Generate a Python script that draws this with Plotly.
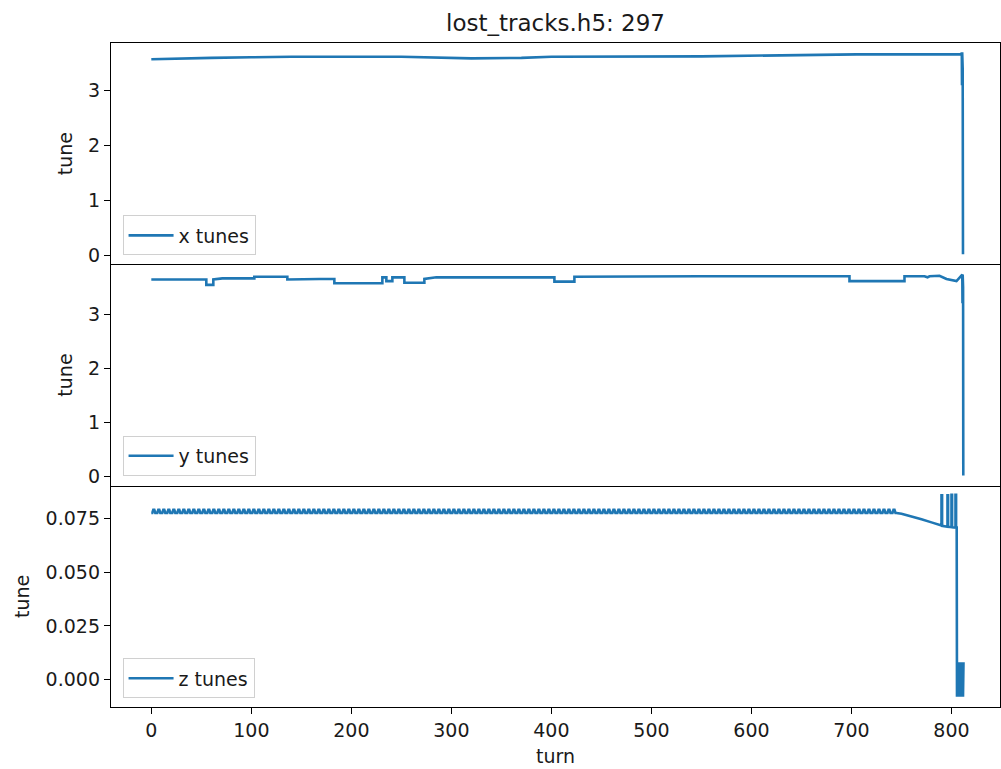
import plotly.graph_objects as go
from plotly.subplots import make_subplots

# ---------------- data ----------------
# x tunes: (turn, tune) knots of the piecewise line
x_turn = [0, 30, 60, 100, 140, 250, 300, 320, 370, 400, 550, 658, 705, 810,
          810.3, 810.5, 810.7, 811.0, 811.2, 811.5]
x_tune = [3.575, 3.59, 3.60, 3.61, 3.62, 3.62, 3.60, 3.59, 3.60, 3.62, 3.627,
          3.645, 3.664, 3.664, 3.70, 3.10, 3.70, 3.10, 3.40, 0.02]

# y tunes
y_turn = [0, 55, 55, 62, 62, 71, 103, 103, 136, 136, 168, 183, 183, 231, 231,
          235, 235, 241, 241, 253, 253, 273, 273, 285, 403, 403, 423, 423,
          548, 698, 698, 753, 753, 773, 776, 778, 788, 795, 805, 810.8,
          811.0, 811.2, 811.4, 811.6, 811.8]
y_tune = [3.64, 3.64, 3.54, 3.54, 3.64, 3.66, 3.66, 3.69, 3.69, 3.64, 3.65,
          3.65, 3.57, 3.57, 3.68, 3.68, 3.61, 3.61, 3.68, 3.68, 3.58, 3.58,
          3.65, 3.68, 3.68, 3.60, 3.60, 3.69, 3.70, 3.70, 3.61, 3.61, 3.70,
          3.70, 3.68, 3.70, 3.71, 3.65, 3.61, 3.73, 3.20, 3.73, 3.20, 3.50,
          0.02]

# z tunes: repeating comb motif (one tooth every 5 turns) observed up to turn 745
z_motif = [0.0776, 0.0776, 0.0791, 0.0791, 0.0776]
z_comb_teeth = 149
# z tunes after the comb: decay, spikes, drop and fast oscillation block
z_tail_turn = [745, 750, 760, 770, 780, 790, 790, 790.6, 790.6, 796, 796,
               796.6, 796.6, 800, 800, 800.6, 800.6, 804, 804, 804.6, 804.6,
               805.2, 805.5, 806.0, 806.5, 807.0, 807.5, 808.0, 808.5, 809.0,
               809.5, 810.0, 810.5, 811.0, 811.5, 812.0]
z_tail_tune = [0.0776, 0.0772, 0.0760, 0.0746, 0.0732, 0.0718, 0.0858, 0.0858,
               0.0716, 0.0712, 0.0858, 0.0858, 0.0711, 0.0710, 0.0860, 0.0860,
               0.0709, 0.0708, 0.0860, 0.0860, 0.0708, 0.0708, -0.008, 0.008,
               -0.008, 0.008, -0.008, 0.008, -0.008, 0.008, -0.008, 0.008,
               -0.008, 0.008, -0.008, 0.008]

title_text = "lost_tracks.h5: 297"
x_ticks = [0, 100, 200, 300, 400, 500, 600, 700, 800]
xy_ticks = [0, 1, 2, 3]
z_ticks = [0.0, 0.025, 0.05, 0.075]

# ---------------- build z series ----------------
z_turn = []
z_tune = []
for k in range(z_comb_teeth):
    for j, v in enumerate(z_motif):
        z_turn.append(5 * k + j)
        z_tune.append(v)
z_turn += z_tail_turn
z_tune += z_tail_tune

# ---------------- figure ----------------
BLUE = "#1f77b4"
FONT = "DejaVu Sans, Liberation Sans, sans-serif"
TXT = "#1a1a1a"
FS = 19

fig = make_subplots(rows=3, cols=1, shared_xaxes=True, vertical_spacing=0)

fig.add_trace(go.Scatter(x=x_turn, y=x_tune, mode="lines", name="x tunes",
                         line=dict(color=BLUE, width=2.6), legend="legend"), 1, 1)
fig.add_trace(go.Scatter(x=y_turn, y=y_tune, mode="lines", name="y tunes",
                         line=dict(color=BLUE, width=2.6), legend="legend2"), 2, 1)
fig.add_trace(go.Scatter(x=z_turn, y=z_tune, mode="lines", name="z tunes",
                         line=dict(color=BLUE, width=2.6), legend="legend3"), 3, 1)


def ax(**over):
    d = dict(showline=True, linecolor="black", linewidth=1.4,
             ticks="outside", ticklen=6, tickwidth=1.3, tickcolor="black",
             showgrid=False, zeroline=False,
             tickfont=dict(family=FONT, size=FS, color=TXT))
    d.update(over)
    return d


title_font = dict(family=FONT, size=FS, color=TXT)
x_range = [-40.3, 848.5]

# x axes: top panel draws top + bottom edges, others only their bottom edges
fig.update_xaxes(**ax(range=x_range, tickvals=x_ticks, mirror=True,
                      showticklabels=False, ticks=""), row=1, col=1)
fig.update_xaxes(**ax(range=x_range, tickvals=x_ticks, mirror=False,
                      showticklabels=False, ticks=""), row=2, col=1)
fig.update_xaxes(**ax(range=x_range, tickvals=x_ticks, mirror=False,
                      title=dict(text="turn", font=title_font, standoff=9)),
                 row=3, col=1)

fig.update_yaxes(**ax(range=[-0.166, 3.871], tickvals=xy_ticks, mirror=True,
                      title=dict(text="tune", font=title_font, standoff=10)),
                 row=1, col=1)
fig.update_yaxes(**ax(range=[-0.166, 3.92], tickvals=xy_ticks, mirror=True,
                      title=dict(text="tune", font=title_font, standoff=10)),
                 row=2, col=1)
fig.update_yaxes(**ax(range=[-0.0128, 0.0903], tickvals=z_ticks,
                      tickformat=".3f", mirror=True,
                      title=dict(text="tune", font=title_font, standoff=10)),
                 row=3, col=1)

legend_style = dict(bgcolor="rgba(255,255,255,0.8)", bordercolor="#d0d0d0",
                    borderwidth=1, font=dict(family=FONT, size=FS, color=TXT),
                    itemwidth=45,
                    xanchor="left", yanchor="bottom", x=0.013)

fig.update_layout(
    width=1001, height=769,
    margin=dict(l=111, r=1, t=43, b=62),
    paper_bgcolor="white", plot_bgcolor="white",
    showlegend=True,
    title=dict(text=title_text, x=0.5, xref="paper", y=1 - 23 / 769,
               yref="container", yanchor="middle", xanchor="center",
               font=dict(family=FONT, size=23, color=TXT)),
    legend=dict(**legend_style, y=0.68),
    legend2=dict(**legend_style, y=0.348),
    legend3=dict(**legend_style, y=0.013),
)

fig.write_html("out.html")
